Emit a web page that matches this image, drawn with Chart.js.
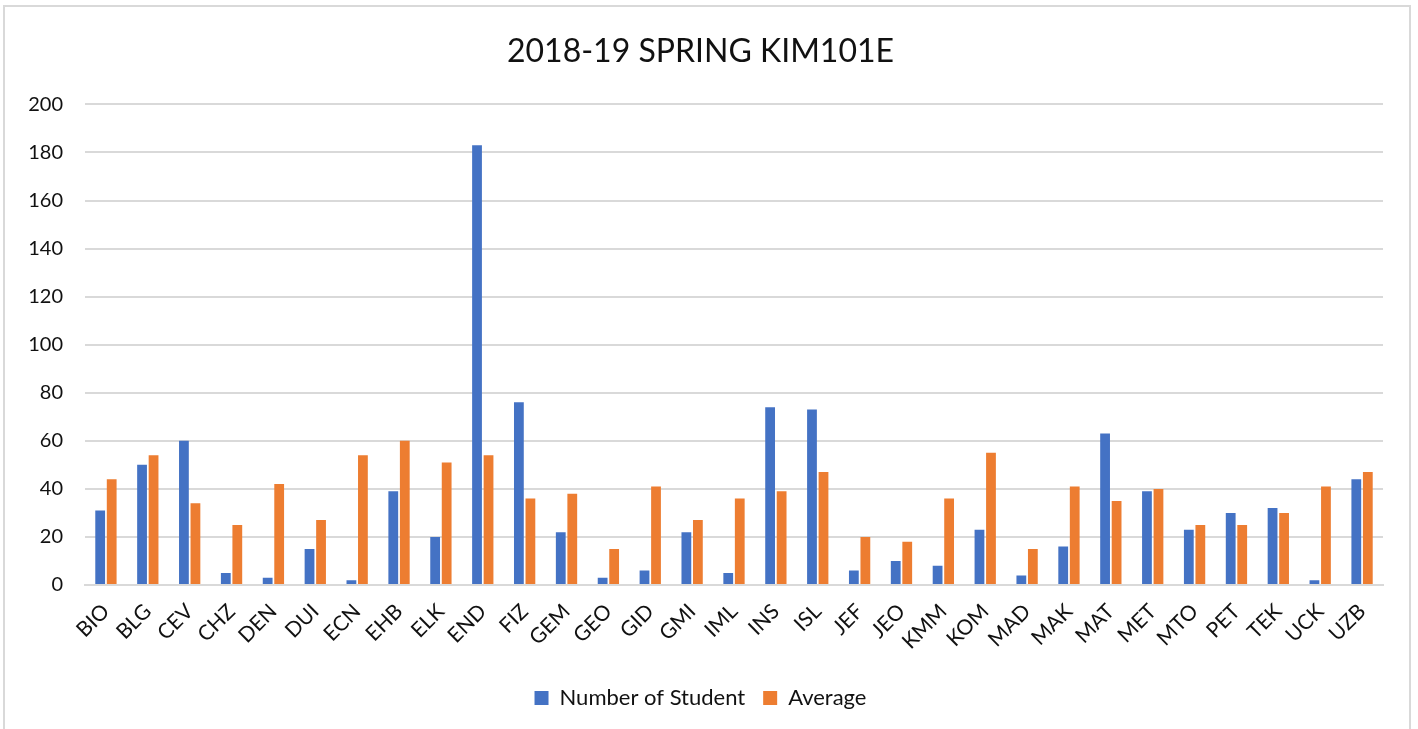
<!DOCTYPE html>
<html>
<head>
<meta charset="utf-8">
<script src="https://cdn.jsdelivr.net/npm/chart.js@4.4.0/dist/chart.umd.min.js"></script>
<style>
  html, body { margin: 0; padding: 0; background: #fff; }
  #wrap { position: relative; width: 1418px; height: 729px; overflow: hidden; }
  #frame { position: absolute; left: 3px; top: 5px; width: 1408px; height: 740px; border: 2px solid #d9d9d9; box-sizing: border-box; }
  #box { position: absolute; left: 0; top: 0; width: 1418px; height: 729px; }
</style>
</head>
<body>
<div id="wrap">
  <div id="frame"></div>
  <div id="box"><canvas id="myChart"></canvas></div>
</div>
<script>
// Bölümler ve değerler
const departments = ['BIO','BLG','CEV','CHZ','DEN','DUI','ECN','EHB','ELK','END','FIZ','GEM','GEO','GID','GMI','IML','INS','ISL','JEF','JEO','KMM','KOM','MAD','MAK','MAT','MET','MTO','PET','TEK','UCK','UZB'];
const numberOfStudent = [31,50,60,5,3,15,2,39,20,183,76,22,3,6,22,5,74,73,6,10,8,23,4,16,63,39,23,30,32,2,44];
const average = [44,54,34,25,42,27,54,60,51,54,36,38,15,41,27,36,39,47,20,18,36,55,15,41,35,40,25,25,30,41,47];
const yTicks = [0,20,40,60,80,100,120,140,160,180,200];

const FONT = 'Lato, "Open Sans", sans-serif';

const ctx = document.getElementById('myChart').getContext('2d');
const myChart = new Chart(ctx, {
    type: 'bar',
    data: {
        labels: departments,
        datasets: [{
            label: 'Number of Student',
            data: numberOfStudent,
            backgroundColor: '#4472C4',
            barPercentage: 0.85,
            categoryPercentage: 0.55
        }, {
            label: 'Average',
            data: average,
            backgroundColor: '#ED7D31',
            barPercentage: 0.85,
            categoryPercentage: 0.55
        }]
    },
    options: {
        responsive: true,
        maintainAspectRatio: false,
        animation: false,
        layout: { padding: { left: 18, right: 35, top: 32, bottom: 10 } },
        scales: {
            x: {
                grid: { display: false },
                border: { color: '#d9d9d9', width: 2 },
                ticks: { color: '#111', font: { family: FONT, size: 21 }, maxRotation: 45, minRotation: 45, autoSkip: false, padding: 6 },
                afterFit: s => { s.height = 84; }
            },
            y: {
                min: 0,
                max: 200,
                afterBuildTicks: s => { s.ticks = yTicks.map(v => ({ value: v })); },
                grid: { color: '#d9d9d9', lineWidth: 2, drawTicks: false },
                border: { display: false },
                ticks: { color: '#111', font: { family: FONT, size: 20 }, padding: 22 },
                afterFit: s => { s.width = 67; }
            }
        },
        plugins: {
            title: {
                display: true,
                text: '2018-19 SPRING KIM101E',
                color: '#111',
                font: { family: FONT, size: 32, weight: 'normal' },
                padding: { top: 0, bottom: 34 }
            },
            legend: {
                position: 'bottom',
                labels: { color: '#111', font: { family: FONT, size: 22 }, boxWidth: 14, boxHeight: 14, padding: 18 }
            },
            tooltip: { enabled: false }
        }
    }
});
</script>
</body>
</html>
